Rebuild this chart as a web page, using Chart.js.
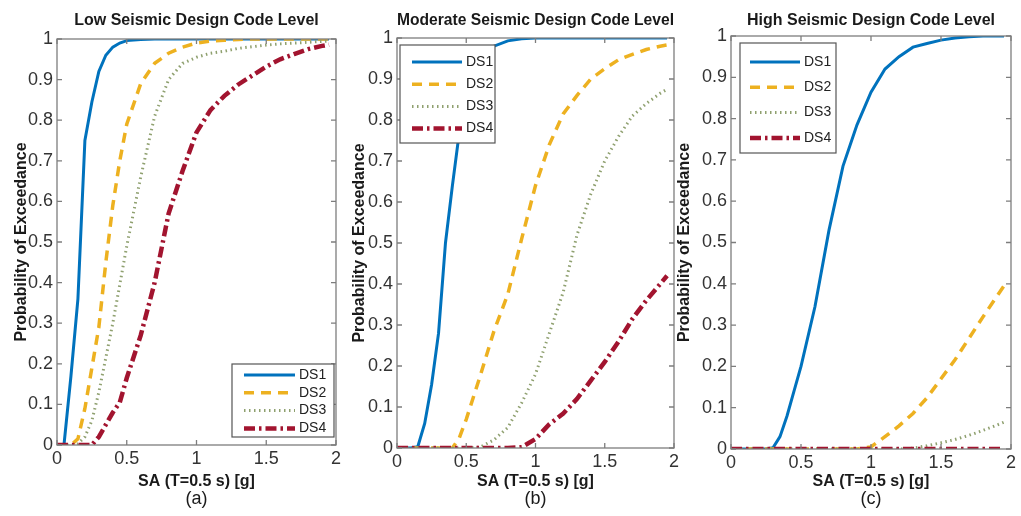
<!DOCTYPE html>
<html>
<head>
<meta charset="utf-8">
<script src="https://cdn.jsdelivr.net/npm/chart.js@4.4.1/dist/chart.umd.min.js"></script>
<style>
html,body{margin:0;padding:0;background:#fff;}
#wrap{position:relative;width:1021px;height:516px;overflow:hidden;background:#fff;}
canvas{position:absolute;top:0;}
</style>
</head>
<body>
<div id="wrap">
  <canvas id="cA" width="346" height="516" style="left:0px"></canvas>
  <canvas id="cB" width="348" height="516" style="left:336px"></canvas>
  <canvas id="cC" width="345" height="516" style="left:676px"></canvas>
</div>
<script>
// ---------- data ----------
const sa = [0,0.05,0.1,0.15,0.2,0.25,0.3,0.35,0.4,0.45,0.5,0.6,0.7,0.8,0.9,1.0,1.1,1.2,1.3,1.4,1.5,1.6,1.7,1.8,1.9,1.95];

const seriesNames = ['DS1','DS2','DS3','DS4'];

const lowDS1 = [0,0,0.17,0.36,0.75,0.845,0.92,0.96,0.98,0.99,0.996,0.999,1,1,1,1,1,1,1,1,1,1,1,1,1,1];
const lowDS2 = [0,0,0,0.015,0.09,0.19,0.29,0.45,0.59,0.7,0.79,0.89,0.94,0.965,0.98,0.99,0.995,0.997,0.999,1,1,1,1,1,1,1];
const lowDS3 = [0,0,0,0.003,0.02,0.06,0.13,0.215,0.3,0.395,0.49,0.66,0.81,0.9,0.94,0.955,0.965,0.97,0.977,0.981,0.985,0.988,0.99,0.992,0.994,0.995];
const lowDS4 = [0,0,0,0,0,0,0.02,0.05,0.08,0.105,0.165,0.27,0.4,0.57,0.675,0.77,0.825,0.86,0.888,0.91,0.932,0.95,0.963,0.975,0.983,0.986];

const midDS1 = [0,0,0,0.003,0.06,0.155,0.28,0.5,0.64,0.77,0.84,0.94,0.98,0.993,0.998,1,1,1,1,1,1,1,1,1,1,1];
const midDS2 = [0,0,0,0,0,0,0,0,0,0.025,0.07,0.175,0.285,0.375,0.51,0.64,0.74,0.815,0.86,0.9,0.925,0.947,0.96,0.972,0.98,0.983];
const midDS3 = [0,0,0,0,0,0,0,0,0,0,0,0.002,0.02,0.05,0.11,0.18,0.28,0.38,0.52,0.62,0.7,0.76,0.81,0.84,0.865,0.875];
const midDS4 = [0,0,0,0,0,0,0,0,0,0,0,0,0,0,0.002,0.022,0.058,0.084,0.12,0.165,0.21,0.26,0.315,0.36,0.4,0.42];

const highDS1 = [0,0,0,0,0,0,0.003,0.03,0.08,0.14,0.2,0.345,0.53,0.685,0.785,0.864,0.92,0.95,0.973,0.982,0.99,0.995,0.998,1,1,1];
const highDS2 = [0,0,0,0,0,0,0,0,0,0,0,0,0,0,0,0.005,0.03,0.056,0.086,0.124,0.17,0.216,0.268,0.32,0.37,0.395];
const highDS3 = [0,0,0,0,0,0,0,0,0,0,0,0,0,0,0,0,0,0,0.002,0.008,0.015,0.023,0.033,0.045,0.058,0.065];
const highDS4 = [0,0,0,0,0,0,0,0,0,0,0,0,0,0,0,0,0,0,0,0,0,0,0,0,0,0];

const xTickLabels = ['0','0.5','1','1.5','2'];
const yTickLabels = ['0','0.1','0.2','0.3','0.4','0.5','0.6','0.7','0.8','0.9','1'];

const panelTitles = ['Low Seismic Design Code Level','Moderate Seismic Design Code Level','High Seismic Design Code Level'];
const panelTags = ['(a)','(b)','(c)'];
const xTitle = 'SA (T=0.5 s) [g]';
const yTitle = 'Probability of Exceedance';

// ---------- styles ----------
const FONT = '"Liberation Sans", Arial, Helvetica, sans-serif';
const seriesColors = ['#0072BD','#EDB120','#8FA06F','#A2142F'];
const seriesWidths = [3, 3.5, 3, 4.5];
const seriesDashes = [[], [10,7], [1.5,3.5], [11,4,2.5,4]];

Chart.defaults.font.family = FONT;

const frameTicks = {
  id: 'frameTicks',
  afterDatasetsDraw(chart) {
    const {ctx, chartArea: a, scales: {x, y}} = chart;
    ctx.save();
    ctx.strokeStyle = '#7d7d7d';
    ctx.lineWidth = 1.3;
    ctx.setLineDash([]);
    ctx.strokeRect(a.left, a.top, a.right - a.left, a.bottom - a.top);
    const L = 5;
    ctx.beginPath();
    x.ticks.forEach(t => {
      const px = x.getPixelForValue(t.value);
      ctx.moveTo(px, a.bottom); ctx.lineTo(px, a.bottom - L);
      ctx.moveTo(px, a.top); ctx.lineTo(px, a.top + L);
    });
    y.ticks.forEach(t => {
      const py = y.getPixelForValue(t.value);
      ctx.moveTo(a.left, py); ctx.lineTo(a.left + L, py);
      ctx.moveTo(a.right, py); ctx.lineTo(a.right - L, py);
    });
    ctx.stroke();
    ctx.restore();
  }
};

const boxLegend = {
  id: 'boxLegend',
  afterDatasetsDraw(chart, args, o) {
    const {ctx, chartArea: a} = chart;
    const bx = o.anchor === 'br' ? a.right - o.dx - o.w : a.left + o.dx;
    const by = o.anchor === 'br' ? a.bottom - o.dy - o.h : a.top + o.dy;
    ctx.save();
    ctx.fillStyle = '#ffffff';
    ctx.fillRect(bx, by, o.w, o.h);
    ctx.strokeStyle = '#555';
    ctx.lineWidth = 1.2;
    ctx.setLineDash([]);
    ctx.strokeRect(bx, by, o.w, o.h);
    chart.data.datasets.forEach((ds, i) => {
      const yy = by + o.first + i * o.gap;
      ctx.save();
      ctx.strokeStyle = ds.borderColor;
      ctx.lineWidth = ds.borderWidth;
      ctx.setLineDash(ds.borderDash || []);
      ctx.beginPath();
      ctx.moveTo(bx + o.lx, yy);
      ctx.lineTo(bx + o.lx + o.len, yy);
      ctx.stroke();
      ctx.restore();
      ctx.fillStyle = '#222';
      ctx.font = '14px ' + FONT;
      ctx.textBaseline = 'middle';
      ctx.textAlign = 'left';
      ctx.fillText(ds.label, bx + o.lx + o.len + 4, yy);
    });
    ctx.restore();
  }
};

function makeChart(id, idx, series, lay) {
  return new Chart(document.getElementById(id), {
    type: 'line',
    data: {
      datasets: series.map((vals, i) => ({
        label: seriesNames[i],
        data: sa.map((x, k) => ({x: x, y: vals[k]})),
        borderColor: seriesColors[i],
        backgroundColor: seriesColors[i],
        borderWidth: seriesWidths[i],
        borderDash: seriesDashes[i],
        pointRadius: 0,
        tension: 0,
        fill: false,
        order: 4 - i
      }))
    },
    options: {
      responsive: false,
      animation: false,
      devicePixelRatio: 1,
      layout: {padding: {left: 0, right: lay.padRight, top: 0, bottom: 0}},
      plugins: {
        legend: {display: false},
        tooltip: {enabled: false},
        title: {
          display: true, fullSize: false, text: panelTitles[idx], color: '#1a1a1a',
          font: {family: FONT, size: 16, weight: 'bold', lineHeight: 1.2},
          padding: {top: 11.4, bottom: lay.titlePadBottom}
        },
        subtitle: {
          display: true, fullSize: false, position: 'bottom', text: panelTags[idx], color: '#1a1a1a',
          font: {family: FONT, size: 18, weight: 'normal', lineHeight: 1},
          padding: {top: 0, bottom: 8}
        },
        boxLegend: lay.legend
      },
      scales: {
        x: {
          type: 'linear', min: 0, max: 2,
          afterFit: s => { s.height = lay.xHeight; },
          ticks: {
            stepSize: 0.5, padding: 5, color: '#333', autoSkip: false, maxRotation: 0,
            font: {family: FONT, size: 18, lineHeight: 1},
            callback: (v, i) => xTickLabels[i]
          },
          grid: {display: false, drawTicks: false},
          border: {display: false},
          title: {
            display: true, text: xTitle, color: '#1a1a1a',
            font: {family: FONT, size: 16, weight: 'bold', lineHeight: 1},
            padding: {top: 0, bottom: 0}
          }
        },
        y: {
          type: 'linear', min: 0, max: 1,
          afterFit: s => { s.width = lay.yWidth; },
          ticks: {
            stepSize: 0.1, padding: 4, color: '#333', autoSkip: false,
            font: {family: FONT, size: 18, lineHeight: 1},
            callback: (v, i) => yTickLabels[i]
          },
          grid: {display: false, drawTicks: false},
          border: {display: false},
          title: {
            display: true, text: yTitle, color: '#1a1a1a',
            font: {family: FONT, size: 16, weight: 'bold', lineHeight: 1},
            padding: {top: lay.yTitlePad, bottom: 0}
          }
        }
      }
    },
    plugins: [frameTicks, boxLegend]
  });
}

makeChart('cA', 0, [lowDS1, lowDS2, lowDS3, lowDS4], {
  padRight: 8, yWidth: 57, xHeight: 45, titlePadBottom: 8.4, yTitlePad: 14,
  legend: {anchor: 'br', dx: 2, dy: 8, w: 102, h: 73, first: 11, gap: 17.8, lx: 12, len: 51}
});
makeChart('cB', 1, [midDS1, midDS2, midDS3, midDS4], {
  padRight: 8, yWidth: 61, xHeight: 42, titlePadBottom: 7.4, yTitlePad: 16,
  legend: {anchor: 'tl', dx: 3, dy: 7, w: 95, h: 98, first: 17, gap: 22.2, lx: 12, len: 50}
});
makeChart('cC', 2, [highDS1, highDS2, highDS3, highDS4], {
  padRight: 9, yWidth: 55, xHeight: 41, titlePadBottom: 5.4, yTitlePad: 1,
  legend: {anchor: 'tl', dx: 9, dy: 7, w: 96, h: 110, first: 19, gap: 25.3, lx: 10, len: 50}
});
</script>
</body>
</html>
